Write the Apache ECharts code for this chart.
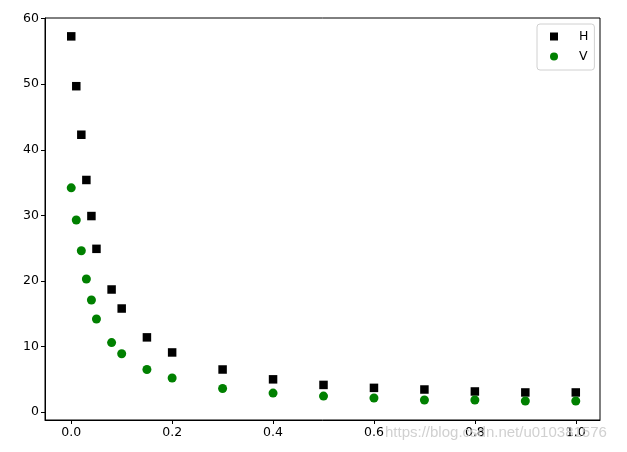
<!DOCTYPE html>
<html>
<head>
<meta charset="utf-8">
<script src="https://cdn.jsdelivr.net/npm/echarts@6/dist/echarts.min.js"></script>
<style>html,body{margin:0;padding:0;background:#fff}#c{width:627px;height:452px}</style>
</head>
<body>
<div id="c"></div>
<script>
const xValues = [0, 0.01, 0.02, 0.03, 0.04, 0.05, 0.08, 0.1, 0.15, 0.2, 0.3, 0.4, 0.5, 0.6, 0.7, 0.8, 0.9, 1.0];
const hValues = [57.3, 49.7, 42.3, 35.4, 29.9, 24.9, 18.7, 15.8, 11.4, 9.1, 6.5, 5.0, 4.15, 3.7, 3.45, 3.15, 3.0, 3.0];
const vValues = [34.2, 29.3, 24.6, 20.3, 17.1, 14.2, 10.6, 8.9, 6.5, 5.2, 3.6, 2.9, 2.45, 2.15, 1.85, 1.85, 1.7, 1.7];
const xTicks = [0, 0.2, 0.4, 0.6, 0.8, 1.0];
const yTicks = [0, 10, 20, 30, 40, 50, 60];
const seriesNames = ['H', 'V'];

const chart = echarts.init(document.getElementById('c'), null, {renderer: 'canvas'});
const axisCommon = {
  axisLine: {show: true, onZero: false, lineStyle: {color: '#000', width: 1}},
  axisTick: {show: true, inside: false, length: 4, lineStyle: {color: '#000'}},
  splitLine: {show: false},
  axisLabel: {color: '#000', fontFamily: 'DejaVu Sans', fontSize: 12.5, margin: 6}
};
chart.setOption({
  animation: false,
  backgroundColor: '#fff',
  grid: {left: 45, right: 27, top: 18, bottom: 32, containLabel: false, show: true, borderColor: '#000', borderWidth: 1},
  xAxis: Object.assign({}, axisCommon, {
    type: 'value', min: -0.052, max: 1.048,
    axisTick: Object.assign({}, axisCommon.axisTick, {customValues: xTicks}),
    axisLabel: Object.assign({}, axisCommon.axisLabel, {customValues: xTicks, formatter: v => v.toFixed(1)})
  }),
  yAxis: Object.assign({}, axisCommon, {
    type: 'value', min: -1.2, max: 60.1,
    axisTick: Object.assign({}, axisCommon.axisTick, {customValues: yTicks}),
    axisLabel: Object.assign({}, axisCommon.axisLabel, {customValues: yTicks, formatter: v => String(Math.round(v))})
  }),
  legend: {
    orient: 'vertical', left: 537, top: 24,
    padding: [6, 6, 7, 13],
    itemWidth: 8, itemHeight: 8, itemGap: 7,
    backgroundColor: '#fff', borderColor: '#d0d0d0', borderWidth: 1, borderRadius: 3,
    textStyle: {color: '#000', fontFamily: 'DejaVu Sans', fontSize: 12.5, lineHeight: 12, padding: [0, 0, 0, 16]},
    data: [{name: seriesNames[0], icon: 'rect'}, {name: seriesNames[1], icon: 'circle'}]
  },
  series: [
    {name: seriesNames[0], type: 'scatter', symbol: 'rect', symbolSize: 8.5,
     itemStyle: {color: '#000', opacity: 1}, data: xValues.map((x, i) => [x, hValues[i]])},
    {name: seriesNames[1], type: 'scatter', symbol: 'circle', symbolSize: 9,
     itemStyle: {color: '#008000', opacity: 1}, data: xValues.map((x, i) => [x, vValues[i]])}
  ],
  graphic: [{
    type: 'text', left: 385, top: 425, z: 100, silent: true,
    style: {text: 'https://blog.csdn.net/u010381576', fill: 'rgba(200,200,200,0.85)', font: '15px "Liberation Sans", Arial, sans-serif'}
  }]
});
</script>
</body>
</html>
